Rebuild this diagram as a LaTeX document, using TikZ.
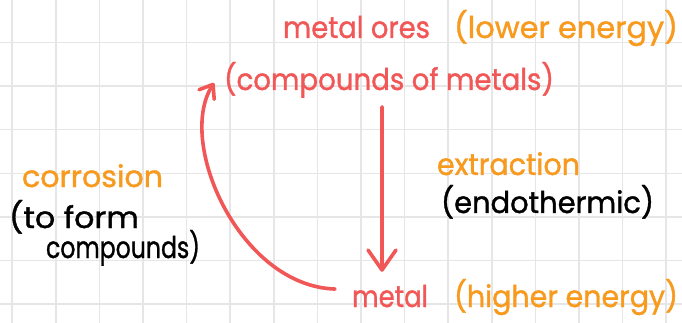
\documentclass[tikz,border=0pt]{standalone}
\usepackage{fontspec}
\setmainfont{Poppins}[FakeBold=1.2]
\usetikzlibrary{arrows.meta,calc}
\definecolor{hred}{HTML}{F25757}
\definecolor{horange}{HTML}{F79A1E}
\definecolor{gridgray}{HTML}{E6E6E6}
\newcommand\fitw[2]{\resizebox{#1pt}{\height}{#2}}
\begin{document}
\begin{tikzpicture}[x=1pt,y=-1pt,
  lbl/.style={inner sep=0pt,outer sep=0pt,anchor=base west,font=\fontsize{30}{36}\selectfont},
  redtxt/.style={lbl,text=hred},
  orgtxt/.style={lbl,text=horange},
  blktxt/.style={lbl,text=black},
  penline/.style={draw=hred,line width=3.6pt,line cap=round,line join=round}]
\useasboundingbox (0,0) rectangle (682,323);
\fill[white] (0,0) rectangle (682,323);
% grid
\foreach \k in {0,...,15} {
  \draw[gridgray,line width=1.5pt] ({12.2+43.6*\k},0) -- ({12.2+43.6*\k},323);
}
\foreach \k in {0,...,6} {
  \draw[gridgray,line width=1.5pt] (0,{42.5+43.6*\k}) -- (682,{42.5+43.6*\k});
}
% texts
\node[redtxt] (ores) at (283,38) {\fitw{147}{metal ores}};
\node[orgtxt] (lower) at (454,38) {\fitw{224}{(lower energy)}};
\node[redtxt] (cmp) at (224,90) {\fitw{330}{(compounds of metals)}};
\node[orgtxt] (extr) at (437,175) {\fitw{143}{extraction}};
\node[blktxt] (endo) at (441,213) {\fitw{213}{(endothermic)}};
\node[orgtxt] (corr) at (22,187) {\fitw{141}{corrosion}};
\node[blktxt] (toform) at (9,228) {\fitw{130}{(to form}};
\node[blktxt] (cmps) at (46,258) {\fitw{154}{compounds)}};
\node[redtxt] (metal) at (352,307) {\fitw{76}{metal}};
\node[orgtxt] (higher) at (454,307) {\fitw{224}{(higher energy)}};
% extraction arrow
\draw[penline,-{Straight Barb[length=20pt,width=28pt,line cap=round,line join=round]}]
  ([xshift=-7pt,yshift=-9pt]cmp.south) -- ([xshift=-8pt,yshift=13pt]metal.north);
% corrosion arrow
\draw[penline,-{Straight Barb[length=12pt,width=18pt,line cap=round,line join=round]}]
  ([xshift=-17pt,yshift=7pt]metal.west) .. controls +(-95,-3) and +(-38,60) .. ([xshift=-10pt,yshift=-3pt]cmp.west);
\end{tikzpicture}
\end{document}
